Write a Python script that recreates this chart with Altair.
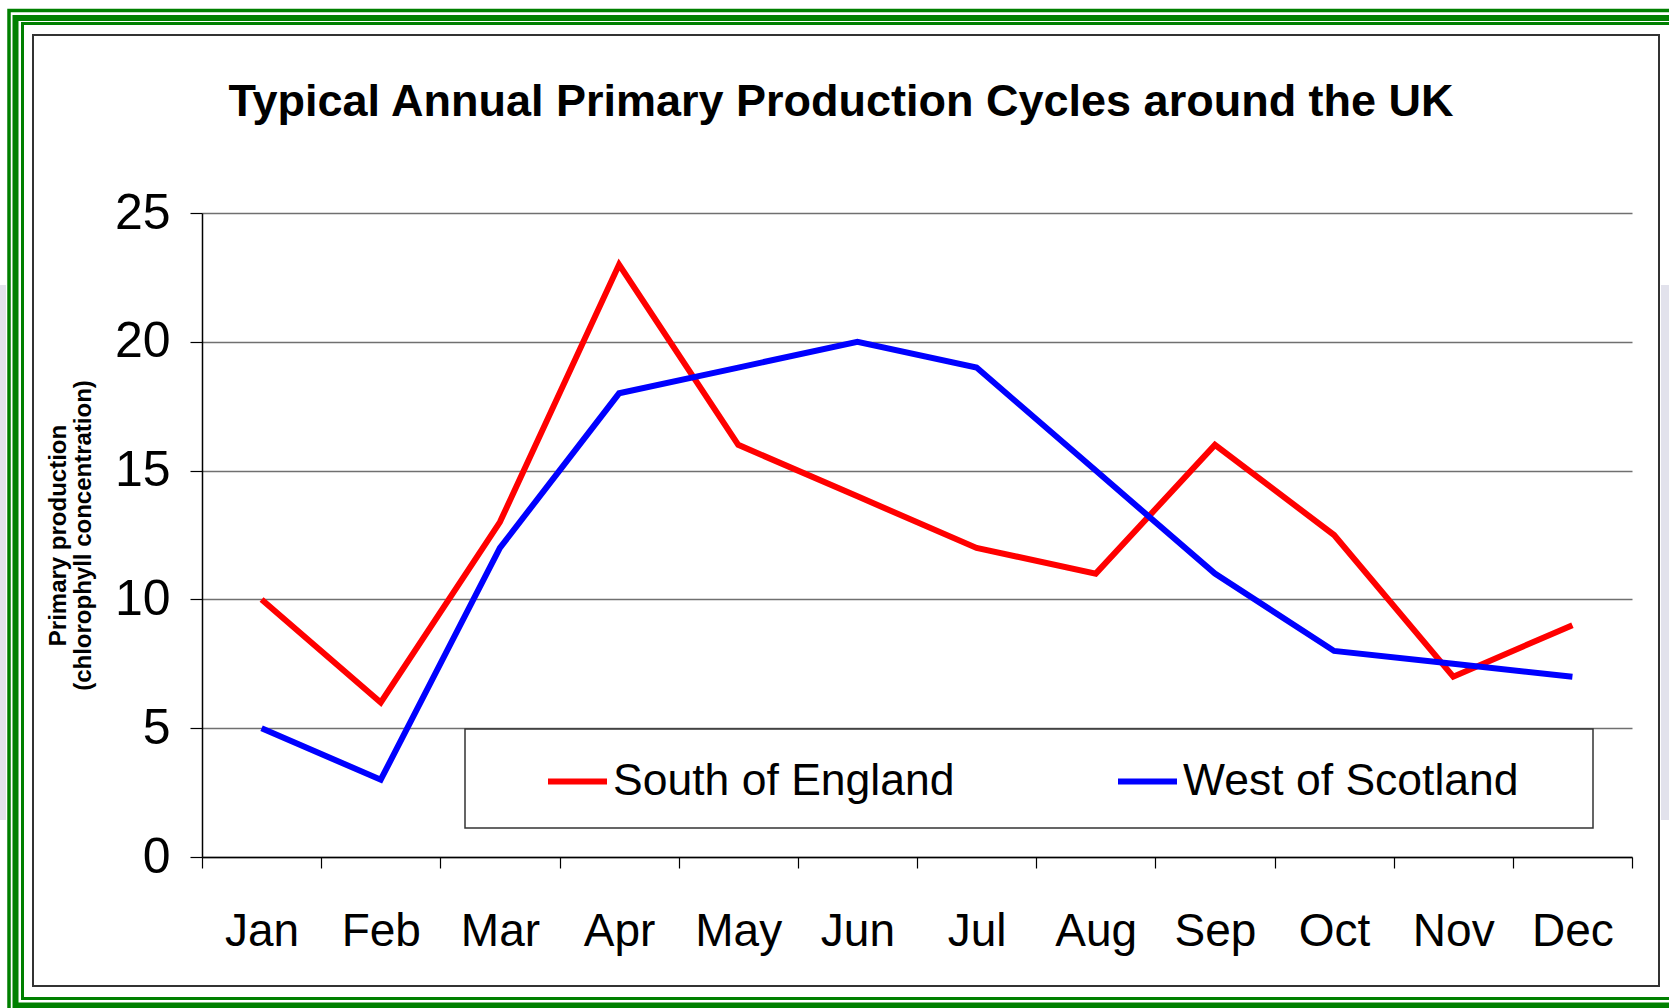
import altair as alt
import pandas as pd

# Monthly chlorophyll concentration (primary production) for two UK waters
months = ["Jan", "Feb", "Mar", "Apr", "May", "Jun",
          "Jul", "Aug", "Sep", "Oct", "Nov", "Dec"]
south_of_england = [10, 6, 13, 23, 16, 14, 12, 11, 16, 12.5, 7, 9]
west_of_scotland = [5, 3, 12, 18, 19, 20, 19, 15, 11, 8, 7.5, 7]
series_names = ["South of England", "West of Scotland"]
series_colors = ["#ff0000", "#0000ff"]
y_ticks = [0, 5, 10, 15, 20, 25]

rows = []
for name, values in zip(series_names, [south_of_england, west_of_scotland]):
    for month, value in zip(months, values):
        rows.append({"Month": month, "Region": name, "Value": value})
df = pd.DataFrame(rows)

FONT = "Liberation Sans"
PLOT_W, PLOT_H = 1430, 644
PAD = {"left": 202, "top": 213, "right": 37, "bottom": 151}

single = alt.Data(values=[{"k": 0}])


def frame_rect(x0, y0, x1, y1, **style):
    """Decorative rectangle given in page pixels."""
    return alt.Chart(single).mark_rect(**style).encode(
        x=alt.value(x0 - PAD["left"]), x2=alt.value(x1 - PAD["left"]),
        y=alt.value(y0 - PAD["top"]), y2=alt.value(y1 - PAD["top"]),
    )


# slide background texture visible at the left and right edges
edge_left = frame_rect(0, 285, 6, 820, fill="#e2e2ec", strokeWidth=0)
edge_right = frame_rect(1661, 285, 1669, 820, fill="#e2e2ec", strokeWidth=0)

# triple green frame and the dark chart border
green = "#008000"
green_outer = frame_rect(9, 10.5, 1720, 1030, fill="white", fillOpacity=0,
                         stroke=green, strokeWidth=3.5)
green_mid = frame_rect(15.5, 18, 1712, 1005.5, fill="white", fillOpacity=0,
                       stroke=green, strokeWidth=6)
green_inner = frame_rect(22.5, 23.5, 1705, 998.5, fill="white", fillOpacity=0,
                         stroke=green, strokeWidth=3)
chart_border = frame_rect(33, 35, 1659, 986, fill="white", fillOpacity=0,
                          stroke="#333333", strokeWidth=2)

# white box behind the legend entries
legend_box = frame_rect(465, 729, 1593, 828, fill="white",
                        stroke="#333333", strokeWidth=1.5)

lines = alt.Chart(df).mark_line(strokeWidth=6).encode(
    x=alt.X(
        "Month:O",
        sort=months,
        bandPosition=0.5,
        scale=alt.Scale(type="band", paddingInner=0, paddingOuter=0),
        axis=alt.Axis(
            tickBand="extent", grid=False, labelAngle=0, tickSize=11,
            tickColor="black", tickWidth=1.2, domainColor="black",
            domainWidth=1.5, labelPadding=41, labelFontSize=46,
            labelColor="black", labelFont=FONT, title=None,
        ),
    ),
    y=alt.Y(
        "Value:Q",
        scale=alt.Scale(domain=[0, 25], nice=False),
        axis=alt.Axis(
            values=y_ticks, grid=True, gridColor="#707070", gridWidth=1.3,
            domainColor="black", domainWidth=1.5, tickColor="black",
            tickSize=12, tickWidth=1.2, labelFontSize=50, labelFont=FONT,
            labelColor="black", labelPadding=20,
            title=["Primary production", "(chlorophyll concentration)"],
            titleFont=FONT, titleFontSize=24, titleFontWeight="bold",
            titleColor="black", titleLineHeight=25, titleAngle=270,
            titleX=-144, titleY=PLOT_H / 2, titleAlign="center",
            titleBaseline="middle",
        ),
    ),
    color=alt.Color(
        "Region:N",
        scale=alt.Scale(domain=series_names, range=series_colors),
        legend=alt.Legend(
            orient="none", legendX=343, legendY=536, direction="horizontal",
            columns=2, columnPadding=151, symbolType="stroke",
            symbolSize=3481, symbolStrokeWidth=6, labelFontSize=44.5,
            labelFont=FONT, labelColor="black", labelOffset=3,
            labelLimit=0, padding=0, title=None,
        ),
    ),
)

chart = alt.layer(
    edge_left, edge_right, green_outer, green_mid, green_inner,
    chart_border, legend_box, lines,
).properties(
    width=PLOT_W,
    height=PLOT_H,
    padding=PAD,
    autosize=alt.AutoSizeParams(type="none"),
    background="white",
    title=alt.TitleParams(
        "Typical Annual Primary Production Cycles around the UK",
        font=FONT, fontSize=45, fontWeight="bold", color="black",
        anchor="middle", frame="group", dx=-76, offset=-152,
        baseline="alphabetic",
    ),
).configure_view(strokeWidth=0)

chart.save("out.html", embed_options={"renderer": "svg", "actions": False})
